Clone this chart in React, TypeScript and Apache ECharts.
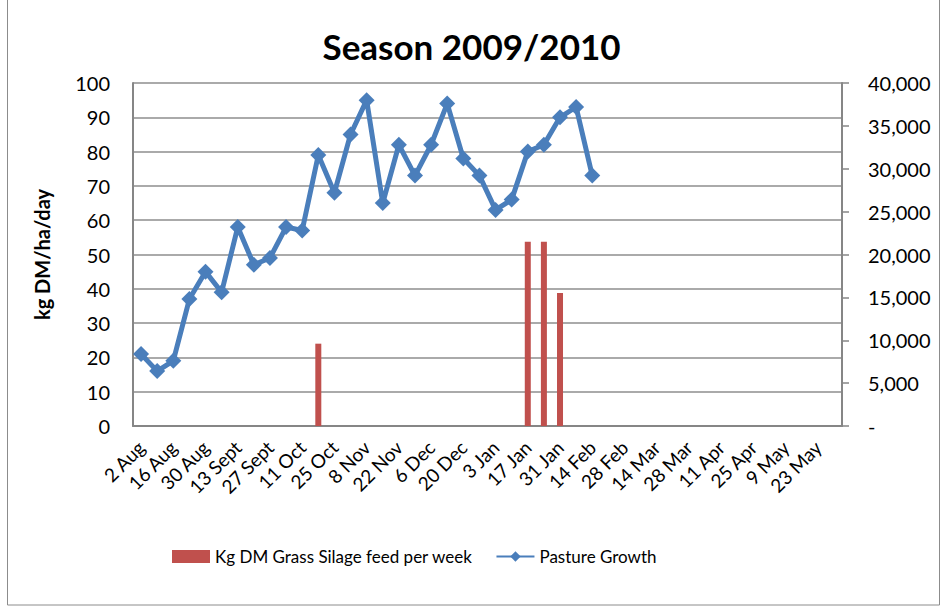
import React, { useEffect, useRef } from "react";
import * as echarts from "echarts";

const weeks: string[] = [
  "2 Aug", "9 Aug", "16 Aug", "23 Aug", "30 Aug", "6 Sept", "13 Sept", "20 Sept", "27 Sept",
  "4 Oct", "11 Oct", "18 Oct", "25 Oct", "1 Nov", "8 Nov", "15 Nov", "22 Nov", "29 Nov",
  "6 Dec", "13 Dec", "20 Dec", "27 Dec", "3 Jan", "10 Jan", "17 Jan", "24 Jan", "31 Jan",
  "7 Feb", "14 Feb", "21 Feb", "28 Feb", "7 Mar", "14 Mar", "21 Mar", "28 Mar", "4 Apr",
  "11 Apr", "18 Apr", "25 Apr", "2 May", "9 May", "16 May", "23 May", "30 May",
];

const pastureGrowth: (number | null)[] = [
  21, 16, 19, 37, 45, 39, 58, 47, 49, 58, 57, 79, 68, 85, 95, 65, 82, 73, 82, 94,
  78, 73, 63, 66, 80, 82, 90, 93, 73,
  null, null, null, null, null, null, null, null, null, null, null, null, null, null, null,
];

const silageFeed: (number | null)[] = [
  null, null, null, null, null, null, null, null, null, null, null, 9600, null, null, null,
  null, null, null, null, null, null, null, null, null, 21500, 21500, 15500, null, null,
  null, null, null, null, null, null, null, null, null, null, null, null, null, null, null,
];

const leftTicks = { min: 0, max: 100, interval: 10 };
const rightTicks = { min: 0, max: 40000, interval: 5000 };

const FONT = "Lato, 'Liberation Sans', sans-serif";

export default function App() {
  const ref = useRef<HTMLDivElement>(null);
  useEffect(() => {
    if (!ref.current) return;
    const chart = echarts.init(ref.current, null, { renderer: "svg" });
    chart.setOption({
      animation: false,
      backgroundColor: "#ffffff",
      textStyle: { fontFamily: FONT },
      title: {
        text: "Season 2009/2010",
        left: "center",
        top: 23,
        textStyle: { fontFamily: FONT, fontWeight: "bold", fontSize: 35, color: "#000" },
      },
      graphic: [
        {
          type: "rect",
          shape: { x: 7.5, y: -5, width: 932, height: 610 },
          style: { fill: "none", stroke: "#8c8c8c", lineWidth: 1 },
          silent: true,
        },
      ],
      legend: {
        left: 167,
        top: 543,
        itemWidth: 38,
        itemHeight: 13,
        itemGap: 23,
        textStyle: { fontFamily: FONT, fontSize: 17, color: "#000" },
        data: [
          { name: "Kg DM Grass Silage feed per week", icon: "rect" },
          { name: "Pasture Growth" },
        ],
      },
      grid: { left: 133, right: 101, top: 83, bottom: 181, outerBoundsMode: "none" },
      xAxis: {
        type: "category",
        data: weeks,
        boundaryGap: true,
        axisLine: { lineStyle: { color: "#868686", width: 2 } },
        axisTick: { show: false },
        axisLabel: {
          interval: 1,
          rotate: 45,
          margin: 18,
          fontFamily: FONT,
          fontSize: 19,
          color: "#000",
        },
      },
      yAxis: [
        {
          type: "value",
          ...leftTicks,
          name: "kg DM/ha/day",
          nameLocation: "middle",
          nameGap: 81,
          nameTextStyle: { fontFamily: FONT, fontWeight: "bold", fontSize: 20, color: "#000" },
          axisLine: { show: true, lineStyle: { color: "#868686", width: 2 } },
          axisTick: { show: false },
          axisLabel: { margin: 23, fontFamily: FONT, fontSize: 20, color: "#000" },
          splitLine: { show: true, lineStyle: { color: "#8e8e8e", width: 1.5 } },
        },
        {
          type: "value",
          ...rightTicks,
          position: "right",
          axisLine: { show: true, lineStyle: { color: "#868686", width: 2 } },
          axisTick: { show: true, length: 7, lineStyle: { color: "#868686", width: 1.5 } },
          axisLabel: {
            margin: 26,
            align: "left",
            fontFamily: FONT,
            fontSize: 20,
            color: "#000",
            formatter: (v: number) => (v === 0 ? "-" : v.toLocaleString("en-US")),
          },
          splitLine: { show: false },
        },
      ],
      series: [
        {
          name: "Kg DM Grass Silage feed per week",
          type: "bar",
          yAxisIndex: 1,
          data: silageFeed,
          barWidth: 6,
          itemStyle: { color: "#C0504D" },
        },
        {
          name: "Pasture Growth",
          type: "line",
          yAxisIndex: 0,
          data: pastureGrowth,
          symbol: "diamond",
          symbolSize: 16,
          showAllSymbol: true,
          connectNulls: false,
          lineStyle: { color: "#4A7EBB", width: 5 },
          itemStyle: { color: "#4A7EBB" },
        },
      ],
    });
    return () => chart.dispose();
  }, []);
  return (
    <div
      ref={ref}
      style={{ position: "fixed", left: 0, top: 0, width: 943, height: 607 }}
    />
  );
}
